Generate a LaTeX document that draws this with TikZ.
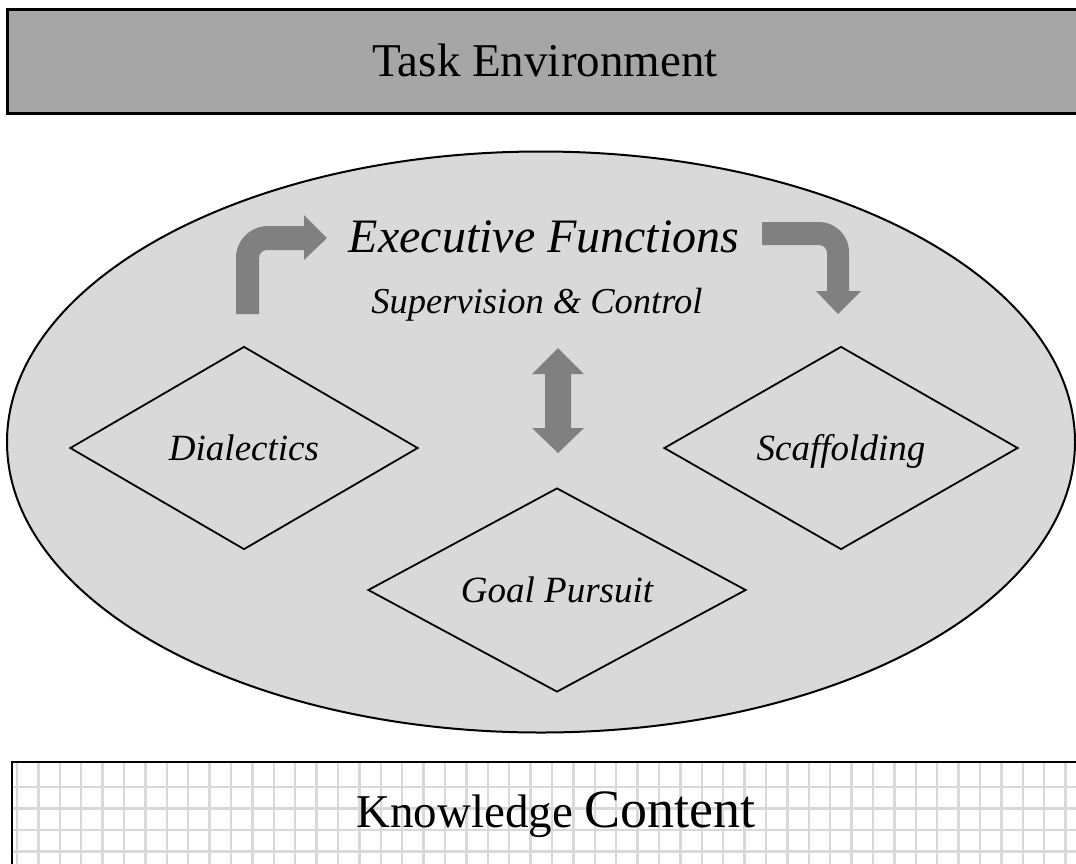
\documentclass[tikz,border=0pt]{standalone}
\usepackage{fontspec}
\setmainfont{Liberation Serif}
\usetikzlibrary{shapes.geometric}
\definecolor{topgray}{HTML}{A6A6A6}
\definecolor{ellgray}{HTML}{D9D9D9}
\definecolor{arrgray}{HTML}{808080}
\definecolor{gridgray}{HTML}{D9D9D9}
\tikzset{
  dia/.style={draw=black, line width=1.8pt, shape=diamond, inner sep=0pt, aspect=1.7,
    text height=25pt, text depth=0pt,
    font=\fontsize{37}{40}\selectfont\itshape},
  blockarrow/.style={fill=arrgray, draw=none},
  lbl/.style={inner sep=0pt}
}
\begin{document}
\begin{tikzpicture}[x=1pt,y=-1pt]
\useasboundingbox (0,0) rectangle (1076,863);
% Task environment
\node[lbl, fill=topgray, draw=black, line width=2.5pt, minimum width=1080pt, minimum height=104pt, anchor=north west] (task) at (6,8) {};
\node[lbl, font=\fontsize{47}{50}\selectfont] (tasklbl) at (545,60) {Task Environment};
% Ellipse
\node[lbl, shape=ellipse, fill=ellgray, draw=black, line width=2pt, minimum width=1068pt, minimum height=581pt] (exec) at (541,442) {};
\node[lbl, font=\fontsize{48}{50}\selectfont\itshape] (execlbl) at (544,237) {Executive Functions};
\node[lbl, font=\fontsize{36.5}{38}\selectfont\itshape] (suplbl) at (537,305) {Supervision \& Control};
% Diamonds
\node[dia, minimum width=348pt, minimum height=203pt] (dial) at (244,448) {Dialectics};
\node[dia, minimum width=354pt, minimum height=203pt] (scaf) at (841,448) {Scaffolding};
\node[dia, minimum width=378pt, minimum height=204pt] (goal) at (557,590) {Goal Pursuit};
% Left bent arrow
\fill[blockarrow] (236,314) -- (236,258) arc[start angle=180, end angle=270, radius=32] -- (304,226) -- (304,215) -- (327,238) -- (304,260) -- (304,250) -- (267,250) arc[start angle=270, end angle=180, radius=8] -- (259,314) -- cycle;
% Right bent arrow
\fill[blockarrow] (762,222) -- (819,222) arc[start angle=270, end angle=360, radius=30] -- (849,291) -- (861,291) -- (838,314) -- (816,291) -- (827,291) -- (827,253) arc[start angle=0, end angle=-90, radius=8] -- (762,245) -- cycle;
% Double arrow
\fill[blockarrow] (558,348) -- (584,374) -- (571,374) -- (571,428) -- (584,428) -- (558,453) -- (532,428) -- (545,428) -- (545,374) -- (532,374) -- cycle;
% Knowledge content
\node[lbl, fill=white, minimum width=1080pt, minimum height=110pt, anchor=north west] (know) at (12,762) {};
\begin{scope}
\clip (12,762) rectangle (1090,870);
\foreach \i in {0,...,50} {\draw[gridgray, line width=2.5pt] (17+21.4*\i,762) -- (17+21.4*\i,870);}
\foreach \j in {0,...,4} {\draw[gridgray, line width=2.5pt] (12,787+21.5*\j) -- (1090,787+21.5*\j);}
\end{scope}
\draw[black, line width=2.5pt] (1090,762) -- (12,762) -- (12,870);
\node[lbl] (knowlbl) at (556,815) {\fontsize{47}{50}\selectfont Knowledge \fontsize{54}{56}\selectfont Content};
\end{tikzpicture}
\end{document}
